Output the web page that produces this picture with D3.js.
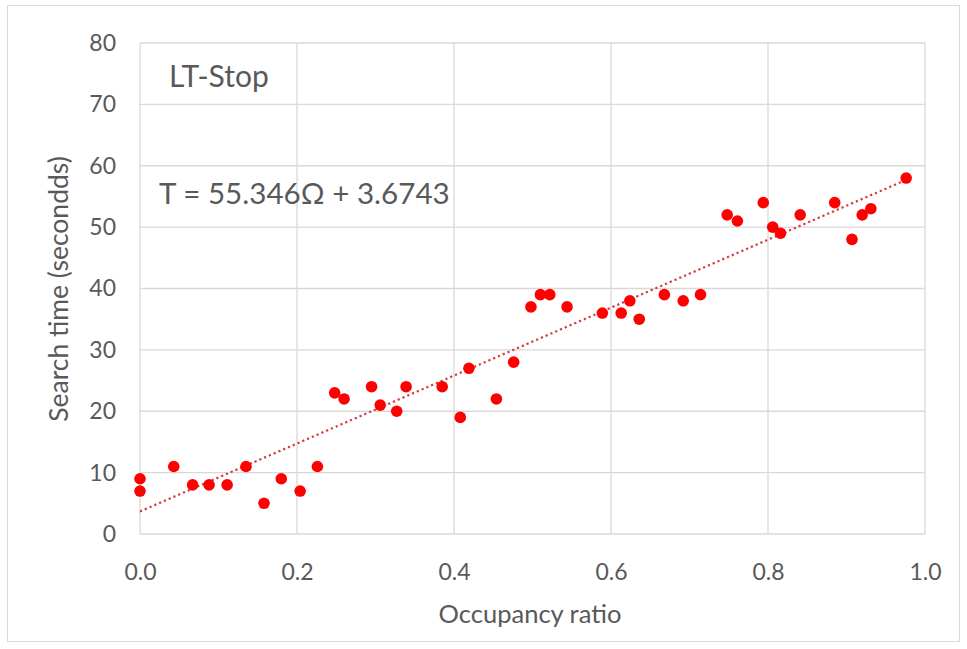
<!DOCTYPE html>
<html><head><meta charset="utf-8">
<script src="https://cdn.jsdelivr.net/npm/d3@7"></script>
<style>body{margin:0;background:#fff}svg{display:block}text{font-family:Lato,"Open Sans",sans-serif}</style>
</head><body>
<svg id="c" width="967" height="649"></svg>
<script>
const occupancy = [0,0,0.043,0.067,0.088,0.111,0.135,0.158,0.180,0.204,0.226,0.248,0.260,0.295,0.306,0.327,0.339,0.385,0.408,0.419,0.454,0.476,0.498,0.510,0.522,0.544,0.589,0.613,0.624,0.636,0.668,0.692,0.714,0.748,0.761,0.794,0.806,0.816,0.841,0.885,0.907,0.920,0.931,0.976];
const searchTime = [9,7,11,8,8,8,11,5,9,7,11,23,22,24,21,20,24,24,19,27,22,28,37,39,39,37,36,36,38,35,39,38,39,52,51,54,50,49,52,54,48,52,53,58];
const xTicks = [0,0.2,0.4,0.6,0.8,1.0];
const yTicks = [0,10,20,30,40,50,60,70,80];
const slope = 55.346, intercept = 3.6743;
const seriesLabel = "LT-Stop";
const equationLabel = "T = 55.346\u03A9 + 3.6743";
const xTitle = "Occupancy ratio";
const yTitle = "Search time (secondds)";

const svg = d3.select("#c");
svg.append("rect").attr("x",7.5).attr("y",5.5).attr("width",952).attr("height",636)
  .attr("fill","#fff").attr("stroke","#d9d9d9");

const x = d3.scaleLinear().domain([0,1]).range([140,925]);
const y = d3.scaleLinear().domain([0,80]).range([534,43]);

const g = svg.append("g");
g.selectAll(".hg").data(yTicks).join("line")
  .attr("x1",x(0)).attr("x2",x(1)).attr("y1",d=>y(d)).attr("y2",d=>y(d))
  .attr("stroke","#d9d9d9").attr("stroke-width",1.3);
g.selectAll(".vg").data(xTicks).join("line")
  .attr("x1",d=>x(d)).attr("x2",d=>x(d)).attr("y1",y(0)).attr("y2",y(80))
  .attr("stroke","#d9d9d9").attr("stroke-width",1.3);

const xa = svg.append("g").attr("transform",`translate(0,${y(0)})`)
  .call(d3.axisBottom(x).tickValues(xTicks).tickFormat(d3.format(".1f")).tickSize(0).tickPadding(30));
xa.select(".domain").remove();
xa.selectAll("text").attr("fill","#595959").style("font-size","23px").style("font-family","Lato");
const ya = svg.append("g").attr("transform",`translate(${x(0)},0)`)
  .call(d3.axisLeft(y).tickValues(yTicks).tickSize(0).tickPadding(24));
ya.select(".domain").remove();
ya.selectAll("text").attr("fill","#595959").style("font-size","23px").style("font-family","Lato");

const xmax = d3.max(occupancy);
svg.append("line")
  .attr("x1",x(0)).attr("y1",y(intercept))
  .attr("x2",x(xmax)).attr("y2",y(slope*xmax+intercept))
  .attr("stroke","#d23c3c").attr("stroke-width",2.2)
  .attr("stroke-dasharray","2.2,3").attr("stroke-linecap","butt");

svg.selectAll(".pt").data(occupancy.map((o,i)=>[o,searchTime[i]])).join("circle")
  .attr("cx",d=>x(d[0])).attr("cy",d=>y(d[1])).attr("r",5.8).attr("fill","#ff0000");

svg.append("text").attr("x",169).attr("y",87).attr("fill","#595959").style("font-size","30px").text(seriesLabel);
svg.append("text").attr("x",159).attr("y",204).attr("fill","#595959").style("font-size","29.6px").text(equationLabel);
svg.append("text").attr("x",530).attr("y",623).attr("text-anchor","middle").attr("fill","#595959").style("font-size","25.5px").text(xTitle);
svg.append("text").attr("transform","translate(68,289) rotate(-90)").attr("text-anchor","middle").attr("fill","#595959").style("font-size","26.5px").text(yTitle);
</script>
</body></html>
